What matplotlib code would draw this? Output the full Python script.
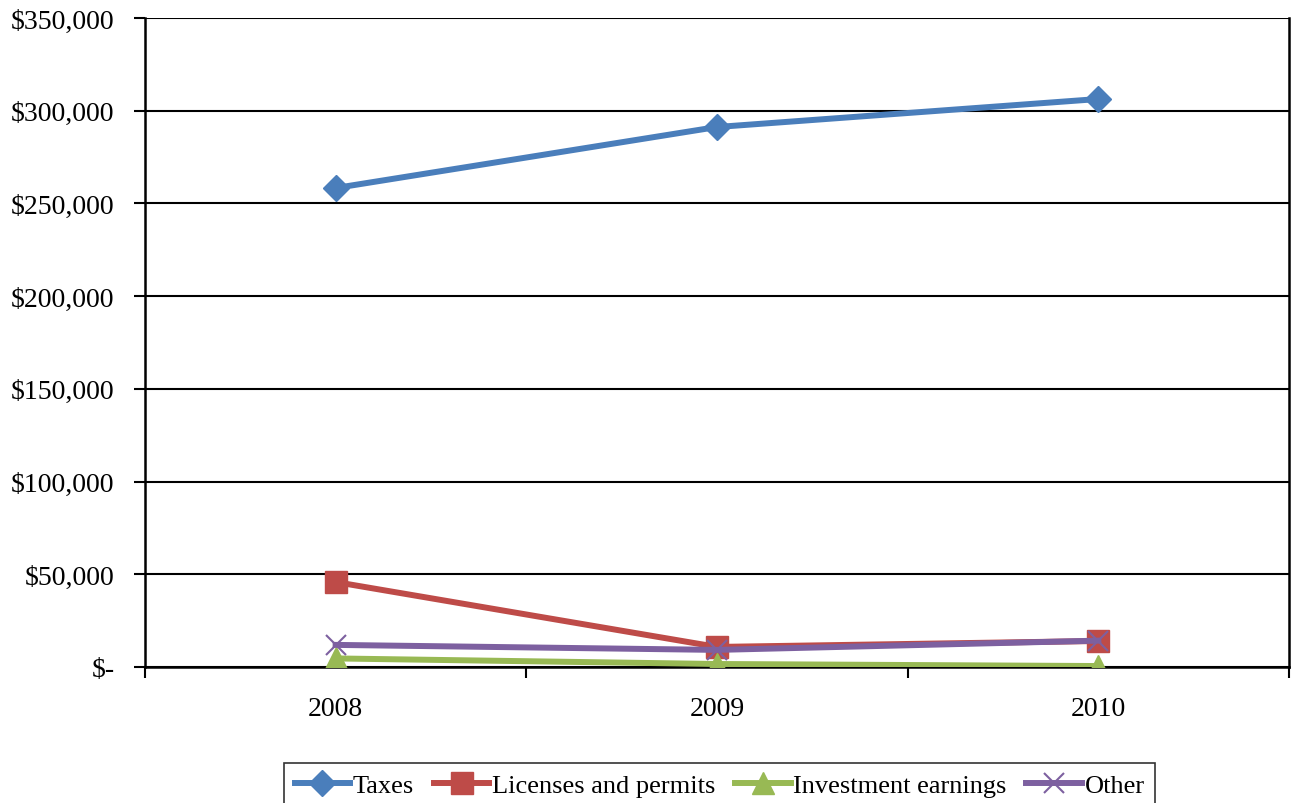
import numpy as np
import matplotlib.pyplot as plt
from matplotlib.ticker import FuncFormatter

# Revenue by source, 2008-2010
years = ['2008', '2009', '2010']
taxes = [258300, 291200, 306300]
licenses = [45800, 10800, 14000]
investment = [4600, 1600, 500]
other = [11900, 9200, 14200]

plt.rcParams['font.family'] = ['Liberation Serif', 'DejaVu Serif']

fig = plt.figure(figsize=(12.92, 8.04), dpi=100)
ax = fig.add_axes([0.1122, 0.1692, 0.8855, 0.8072])

x = np.arange(len(years))
lw = 4.3
ax.plot(x, taxes, color='#4a7ebb', lw=lw, marker='D', ms=13, label='Taxes', zorder=3)
ax.plot(x, licenses, color='#be4b48', lw=lw, marker='s', ms=15.5, label='Licenses and permits', zorder=3)
ax.plot(x, investment, color='#98b954', lw=lw, marker='^', ms=16, label='Investment earnings', zorder=3)
ax.plot(x, other, color='#7d60a0', lw=lw, marker='x', ms=15, mew=1.5, label='Other', zorder=4)

ax.set_xlim(-0.5, 2.5)
ax.set_ylim(0, 350000)
ax.set_yticks(np.arange(0, 350001, 50000))
ax.yaxis.set_major_formatter(FuncFormatter(lambda v, p: '$-' if v == 0 else f'${v:,.0f}'))
ax.grid(axis='y', color='black', lw=1.5)
ax.set_axisbelow(True)

# category boundaries carry the ticks, labels sit in between
ax.set_xticks([-0.5, 0.5, 1.5, 2.5])
ax.set_xticklabels([])
ax.set_xticks(x, minor=True)
ax.set_xticklabels(years, minor=True)
ax.tick_params(axis='x', which='major', length=8, width=1.5, direction='out')
ax.tick_params(axis='x', which='minor', length=0, pad=21, labelsize=20)
ax.tick_params(axis='y', length=8, width=1.5, direction='out', labelsize=20, pad=14)

for side in ['left', 'right', 'bottom']:
    ax.spines[side].set_linewidth(1.8)
    ax.spines[side].set_color('black')
ax.spines['top'].set_visible(False)

leg = fig.legend(loc='lower center', bbox_to_anchor=(0.557, -0.022), ncol=4,
                 fontsize=19, frameon=True, fancybox=False, edgecolor='black',
                 handlelength=2.1, handletextpad=0.1, columnspacing=0.75,
                 borderpad=0.4)
leg.get_frame().set_linewidth(1.2)

fig.savefig('out.png', dpi=100)
